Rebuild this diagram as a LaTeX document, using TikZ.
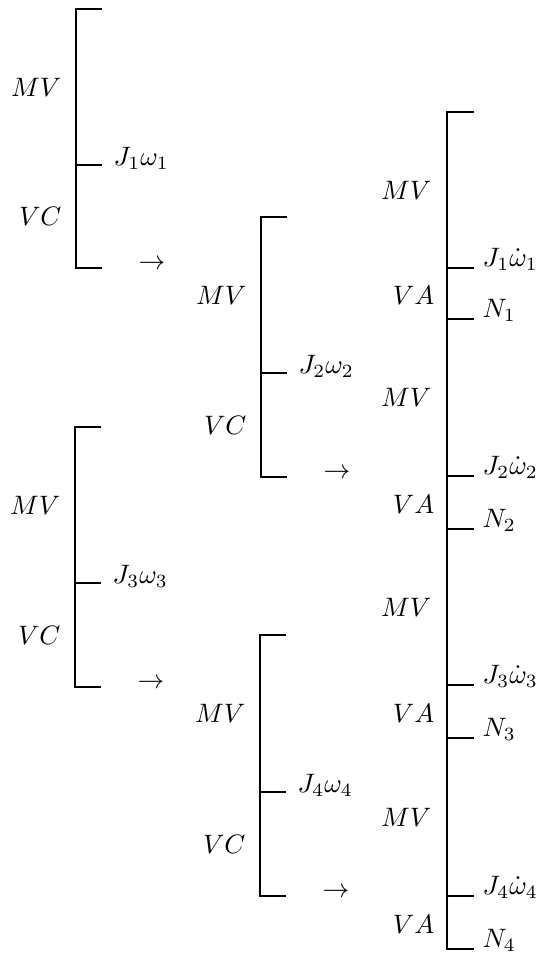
\documentclass[tikz,border=0pt]{standalone}
\usepackage{amsmath}
\usetikzlibrary{calc,positioning}
\tikzset{brk/.style={line width=0.7pt},
  lbl/.style={inner sep=0pt,font=\normalsize},
  side/.style={lbl,anchor=east},
  term/.style={lbl,anchor=base west}}

\begin{document}
\begin{tikzpicture}[x=0.375pt,y=-0.375pt]
\useasboundingbox (0,0) rectangle (547,961);
% left brackets: i/x/top/tick/bottom (pixel units, y downwards)
\foreach \i/\x/\t/\m/\b in {1/76/9/165/268,2/261/217/373/477,3/75/427/583/687,4/260/635/792/896}{
  \coordinate (t\i) at (\x,\t);
  \coordinate (m\i) at (\x,\m);
  \coordinate (b\i) at (\x,\b);
  \draw[brk] ($(t\i)+(26,0)$) -- (t\i) -- (b\i) -- ++(26,0);
  \draw[brk] (m\i) -- ++(26,0);
  \node[side] (mv\i) at ($($(t\i)!0.5!(m\i)$)+(-14,0)$) {$MV$};
  \node[side] (vc\i) at ($($(m\i)!0.5!(b\i)$)+(-14,0)$) {$VC$};
  \node[term] (jw\i) at ($(m\i)+(37,0)$) {$J_{\i}\omega_{\i}$};
  \node[lbl,anchor=base] (go\i) at ($(b\i)+(76,1)$) {$\rightarrow$};
}
% right bracket
\coordinate (rt) at (447,112);
\coordinate (rb) at (447,949);
\draw[brk] ($(rt)+(27,0)$) -- (rt) -- (rb) -- ++(27,0);
\foreach \i/\j/\n/\p in {1/268/319/112,2/476/529/319,3/685/738/529,4/896/949/738}{
  \coordinate (rp\i) at (447,\p);
  \coordinate (rj\i) at (447,\j);
  \coordinate (rn\i) at (447,\n);
  \draw[brk] (rj\i) -- ++(27,0);
  \draw[brk] (rn\i) -- ++(27,0);
  \node[side] (rmv\i) at ($($(rp\i)!0.5!(rj\i)$)+(-15,0)$) {$MV$};
  \node[side] (rva\i) at ($($(rj\i)!0.5!(rn\i)$)+(-12,2)$) {$VA$};
  \node[term] (rjw\i) at ($(rj\i)+(35,-2)$) {$J_{\i}\dot{\omega}_{\i}$};
  \node[term] (rn\i lbl) at ($(rn\i)+(35,-2)$) {$N_{\i}$};
}
\end{tikzpicture}
\end{document}
